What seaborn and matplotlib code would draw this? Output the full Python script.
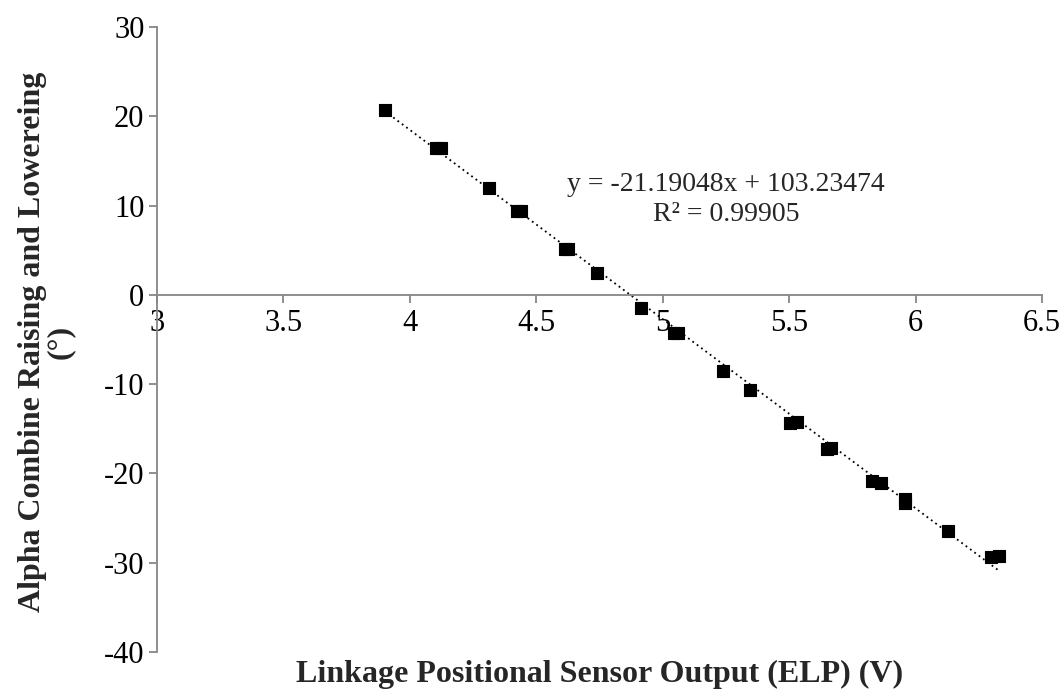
import matplotlib
matplotlib.use("Agg")
import matplotlib.pyplot as plt
import seaborn as sns
import pandas as pd

# Sensor output (V) and measured header angle (deg)
elp_volts = [3.900, 4.104, 4.122, 4.315, 4.423, 4.439, 4.614, 4.625, 4.740,
             4.913, 5.045, 5.059, 5.237, 5.344, 5.504, 5.531, 5.650, 5.666,
             5.829, 5.862, 5.958, 5.958, 6.130, 6.299, 6.330]
angle_deg = [20.72, 16.45, 16.40, 11.95, 9.42, 9.40, 5.15, 5.10, 2.43,
             -1.49, -4.25, -4.30, -8.51, -10.67, -14.30, -14.20, -17.30, -17.10,
             -20.90, -21.10, -22.90, -23.30, -26.43, -29.35, -29.30]

# Linear trendline coefficients
slope = -21.19048
intercept = 103.23474
r_squared = 0.99905

x_ticks = [3, 3.5, 4, 4.5, 5, 5.5, 6, 6.5]
x_tick_labels = ["3", "3.5", "4", "4.5", "5", "5.5", "6", "6.5"]
y_ticks = [-40, -30, -20, -10, 0, 10, 20, 30]

sns.set_style("white")
plt.rcParams["font.family"] = ["Liberation Serif", "DejaVu Serif"]
plt.rcParams["axes.unicode_minus"] = False

df = pd.DataFrame({"elp": elp_volts, "angle": angle_deg})
x_lo, x_hi = min(elp_volts), max(elp_volts)
trend = pd.DataFrame({"elp": [x_lo, x_hi],
                      "angle": [slope * x_lo + intercept, slope * x_hi + intercept]})

fig = plt.figure(figsize=(10.62, 6.91), dpi=100)
ax = fig.add_axes([0.1478, 0.0564, 0.8334, 0.9046])

sns.lineplot(data=trend, x="elp", y="angle", ax=ax, color="black",
             linestyle=(0, (1, 2)), linewidth=1.3, zorder=2)
sns.scatterplot(data=df, x="elp", y="angle", ax=ax, marker="s", s=72,
                color="black", edgecolor="black", linewidth=0.8, zorder=3)

ax.set_xlim(3, 6.5)
ax.set_ylim(-40, 30)
ax.set_xticks(x_ticks)
ax.set_xticklabels(x_tick_labels)
ax.set_yticks(y_ticks)

grey = "#868686"
ax.spines["top"].set_visible(False)
ax.spines["right"].set_visible(False)
ax.spines["bottom"].set_position(("data", 0))
for side in ("left", "bottom"):
    ax.spines[side].set_color(grey)
    ax.spines[side].set_linewidth(1.3)

ax.tick_params(axis="both", which="major", direction="out", length=6,
               width=1.3, color=grey, labelsize=22, labelcolor="black",
               left=True, bottom=True)
ax.tick_params(axis="x", pad=4)
ax.tick_params(axis="y", pad=3)

ax.set_xlabel("")
ax.set_ylabel("")
fig.text(0.5645, 0.024, "Linkage Positional Sensor Output (ELP) (V)",
         ha="center", va="center", fontsize=23, fontweight="bold")
fig.text(0.044, 0.505, "Alpha Combine Raising and Lowereing\n(°)",
         ha="center", va="center", rotation=90, fontsize=23,
         fontweight="bold", linespacing=0.95)

ax.text(5.25, 10.7,
        f"y = {slope:.5f}x + {intercept:.5f}\nR² = {r_squared:.5f}",
        ha="center", va="center", fontsize=20, linespacing=1.25)

fig.savefig("out.png", dpi=100, facecolor="white")
